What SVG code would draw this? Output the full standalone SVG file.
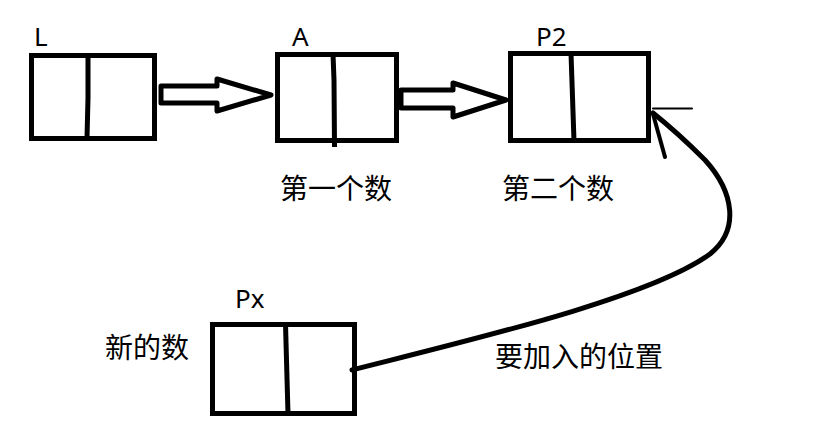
<svg xmlns="http://www.w3.org/2000/svg" width="819" height="429" viewBox="0 0 819 429">
<style>
.box{fill:#fff;stroke:#000;stroke-width:5}
.div{fill:none;stroke:#000;stroke-width:5}
.blk{fill:#fff;stroke:#000;stroke-width:5;stroke-linejoin:round}
.lbl{font-family:"Noto Sans","Open Sans",sans-serif;font-size:26px;fill:#000}
.cjk{font-family:"Noto Sans CJK SC","Noto Sans",sans-serif;font-size:28px;fill:#000}
.ln{fill:none;stroke:#000;stroke-linecap:round}
</style>
<rect width="819" height="429" fill="#fff"/>
<g id="node-L">
<rect class="box" x="31.5" y="55.5" width="123" height="83"/>
<polyline class="div" points="88,55 88,98 87,138"/>
<text class="lbl" x="34" y="46">L</text>
</g>
<g id="node-A">
<rect class="box" x="277.5" y="54.5" width="119" height="86"/>
<polyline class="div" points="333,54 334,80 334.5,147"/>
<text class="lbl" x="292" y="46">A</text>
<text class="cjk" x="280" y="199">第一个数</text>
</g>
<g id="node-P2">
<rect class="box" x="510.5" y="53.5" width="138" height="87"/>
<line class="div" x1="571" y1="53" x2="574" y2="141"/>
<text class="lbl" x="536" y="46">P2</text>
<text class="cjk" x="502" y="199">第二个数</text>
</g>
<g id="node-Px">
<rect class="box" x="212.5" y="324.5" width="142" height="89"/>
<line class="div" x1="285.5" y1="324" x2="288" y2="414"/>
<text class="lbl" x="235" y="308">Px</text>
<text class="cjk" x="105" y="358">新的数</text>
</g>
<g id="label-pos">
<text class="cjk" x="495" y="367">要加入的位置</text>
</g>
<g id="connectors">
<polygon class="blk" points="161,86 217,86 217,79 271,95 217,111 217,103 161,103"/>
<polygon class="blk" points="401,90 453,90 453,83 506,100 453,117 453,108 401,108"/>
<line class="ln" x1="653" y1="108.5" x2="692" y2="108.5" stroke-width="2"/>
<path class="ln" stroke-width="5" d="M352,370 C470,340 650,298 710,254 C740,230 734,192 705,160 C685,140 668,125 653,113"/>
<path class="ln" stroke-width="4" d="M653,114 L665,157"/>
</g>
</svg>
